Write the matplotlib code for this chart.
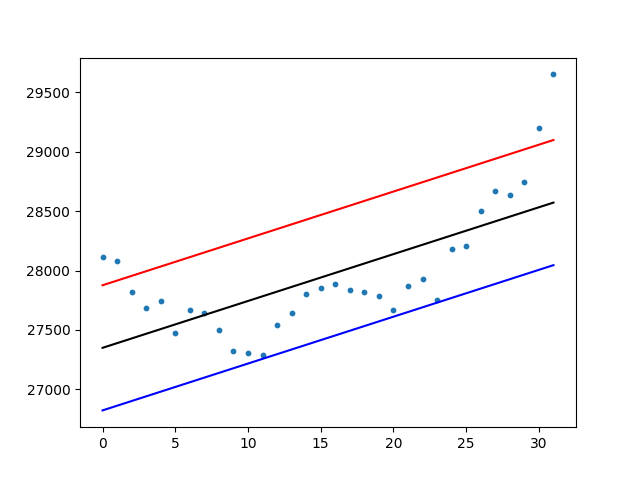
import matplotlib
matplotlib.use("Agg")
import matplotlib.pyplot as plt
import numpy as np

jours = np.arange(32)
valeurs = [28111, 28077, 27817, 27682, 27741, 27471, 27665, 27642,
           27497, 27320, 27303, 27286, 27539, 27640, 27800, 27850,
           27884, 27833, 27817, 27783, 27665, 27867, 27926, 27752,
           28179, 28204, 28498, 28667, 28633, 28743, 29197, 29652]
ecart = 527


def plot_tendance(x, y):
    a, b = np.polyfit(x, y, 1)
    tendance = a * x + b
    fig, ax = plt.subplots(figsize=(6.4, 4.8), dpi=100)
    ax.scatter(x, y, s=10)
    ax.plot(x, tendance, color='black')
    ax.plot(x, tendance + ecart, color='red')
    ax.plot(x, tendance - ecart, color='blue')
    plt.savefig("out.png")


if __name__ == '__main__':
    plot_tendance(jours, valeurs)
